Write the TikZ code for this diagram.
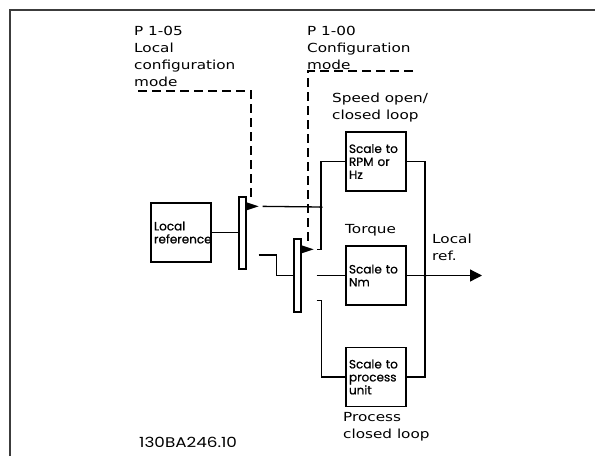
\documentclass[tikz,border=0pt]{standalone}
\usepackage{fontspec}
\newfontfamily\lblfont[FakeStretch=1.22]{DejaVu Sans}
\newfontfamily\cadfont[FakeBold=0.6]{Poppins}
\newfontfamily\idfont[FakeStretch=1.2]{Poppins}
\usetikzlibrary{arrows.meta,positioning,calc}
\definecolor{frmgray}{RGB}{60,60,60}
\tikzset{
  scalebox/.style={rectangle,draw,line width=1.3pt,
                   minimum width=60pt,minimum height=59pt,
                   text width=54pt,align=left,inner sep=0pt,
                   font=\cadfont\fontsize{12}{13}\selectfont},
  swbar/.style={rectangle,draw,line width=1.3pt,
                minimum width=7pt,minimum height=72pt,inner sep=0pt},
  lbl/.style={anchor=north west,inner sep=0pt,align=left,
              font=\lblfont\fontsize{12.5}{17}\selectfont},
  wire/.style={line width=1.3pt},
  ctrl/.style={line width=1.3pt,dash pattern=on 9pt off 5pt},
  contact/.style={fill=black},
  jdot/.style={circle,fill=black,inner sep=0pt,minimum size=3.5pt},
}
\begin{document}
\begin{tikzpicture}[x=1pt,y=-1pt]
  \useasboundingbox (0,0) rectangle (595,456);
  \draw[frmgray,line width=2pt] (10,456) -- (10,10) -- (595,10);

  % texts
  \node[lbl] (pconf) at (134,26) {P 1-05\\Local\\configuration\\mode};
  \node[lbl] (pmode) at (307,26) {P 1-00\\Configuration\\mode};
  \node[lbl] (tspeed) at (332,93) {Speed open/\\closed loop};
  \node[lbl] (ttorque) at (345,224) {Torque};
  \node[lbl] (tlocal) at (432,234) {Local\\ref.};
  \node[lbl] (tproc) at (343,412) {Process\\closed loop};
  \node[anchor=base west,inner sep=0pt,font=\idfont\fontsize{14}{15}\selectfont]
    (docid) at (139,447) {130BA246.10};

  % blocks
  \node[scalebox,font=\cadfont\fontsize{10.5}{13}\selectfont] (lref) at (181,232.5)
    {\fontsize{12}{13}\selectfont Local\\reference};
  \node[scalebox] (srpm) at (376,161.5) {Scale to\\RPM or\\Hz};
  \node[scalebox] (snm) at (376,275.5) {Scale to\\Nm};
  \node[scalebox] (sproc) at (376,377) {Scale to\\process\\unit};

  % switches
  \node[swbar] (sw1) at (242.5,233) {};
  \node[swbar,minimum height=73pt] (sw2) at (297.5,275.5) {};

  % contact points
  \coordinate (c1) at ($(sw1.north east)+(0,10)$);
  \coordinate (c2) at ($(sw2.north east)+(0,11)$);
  \fill[contact] (c1) ++(0,-4) -- ++(12,4) -- ++(-12,4) -- cycle;
  \fill[contact] (c2) ++(0,-4) -- ++(12,4) -- ++(-12,4) -- cycle;
  \coordinate (o1a) at ($(c1)+(16,0)$);
  \coordinate (o1b) at ($(sw1.east)+(12,22)$);
  \coordinate (i2a) at ($(c2)+(15,0)$);
  \coordinate (o2a) at ($(sw2.east)+(15,0)$);
  \coordinate (o2b) at ($(sw2.east)+(15,25)$);
  \coordinate (j1) at (321,207);
  \coordinate (j2) at (425,275.5);
  \coordinate (out) at (482,275.5);

  % wires
  \draw[wire] (lref.east) -- (lref.east -| sw1.west);
  \draw[wire] (o1a) -- (j1);
  \draw[wire] (j1) |- (srpm.west);
  \draw[wire] (j1) |- (i2a);
  \draw[wire] (o1b) -- ++(18,0) |- (sw2.west);
  \draw[wire] (o2a) -- (snm.west);
  \draw[wire] (o2b) -- ++(5,0) |- (sproc.west);
  \foreach \b in {srpm, sproc}
    \draw[wire] (\b.east) -| (j2);
  \draw[wire] (snm.east) -- (j2);
  \draw[wire,-{Triangle[length=12pt,width=12pt]}] (j2) -- (out);
  \node[jdot] at (j1) {};
  \node[jdot] at (j2) {};

  % control lines
  \coordinate (d1) at (138,91);
  \coordinate (m1) at (251,199);
  \coordinate (d2) at (413,71);
  \coordinate (m2) at (308,245);
  \draw[ctrl] (d1) -| (m1);
  \draw[ctrl] (d2) -| (m2);
\end{tikzpicture}
\end{document}
